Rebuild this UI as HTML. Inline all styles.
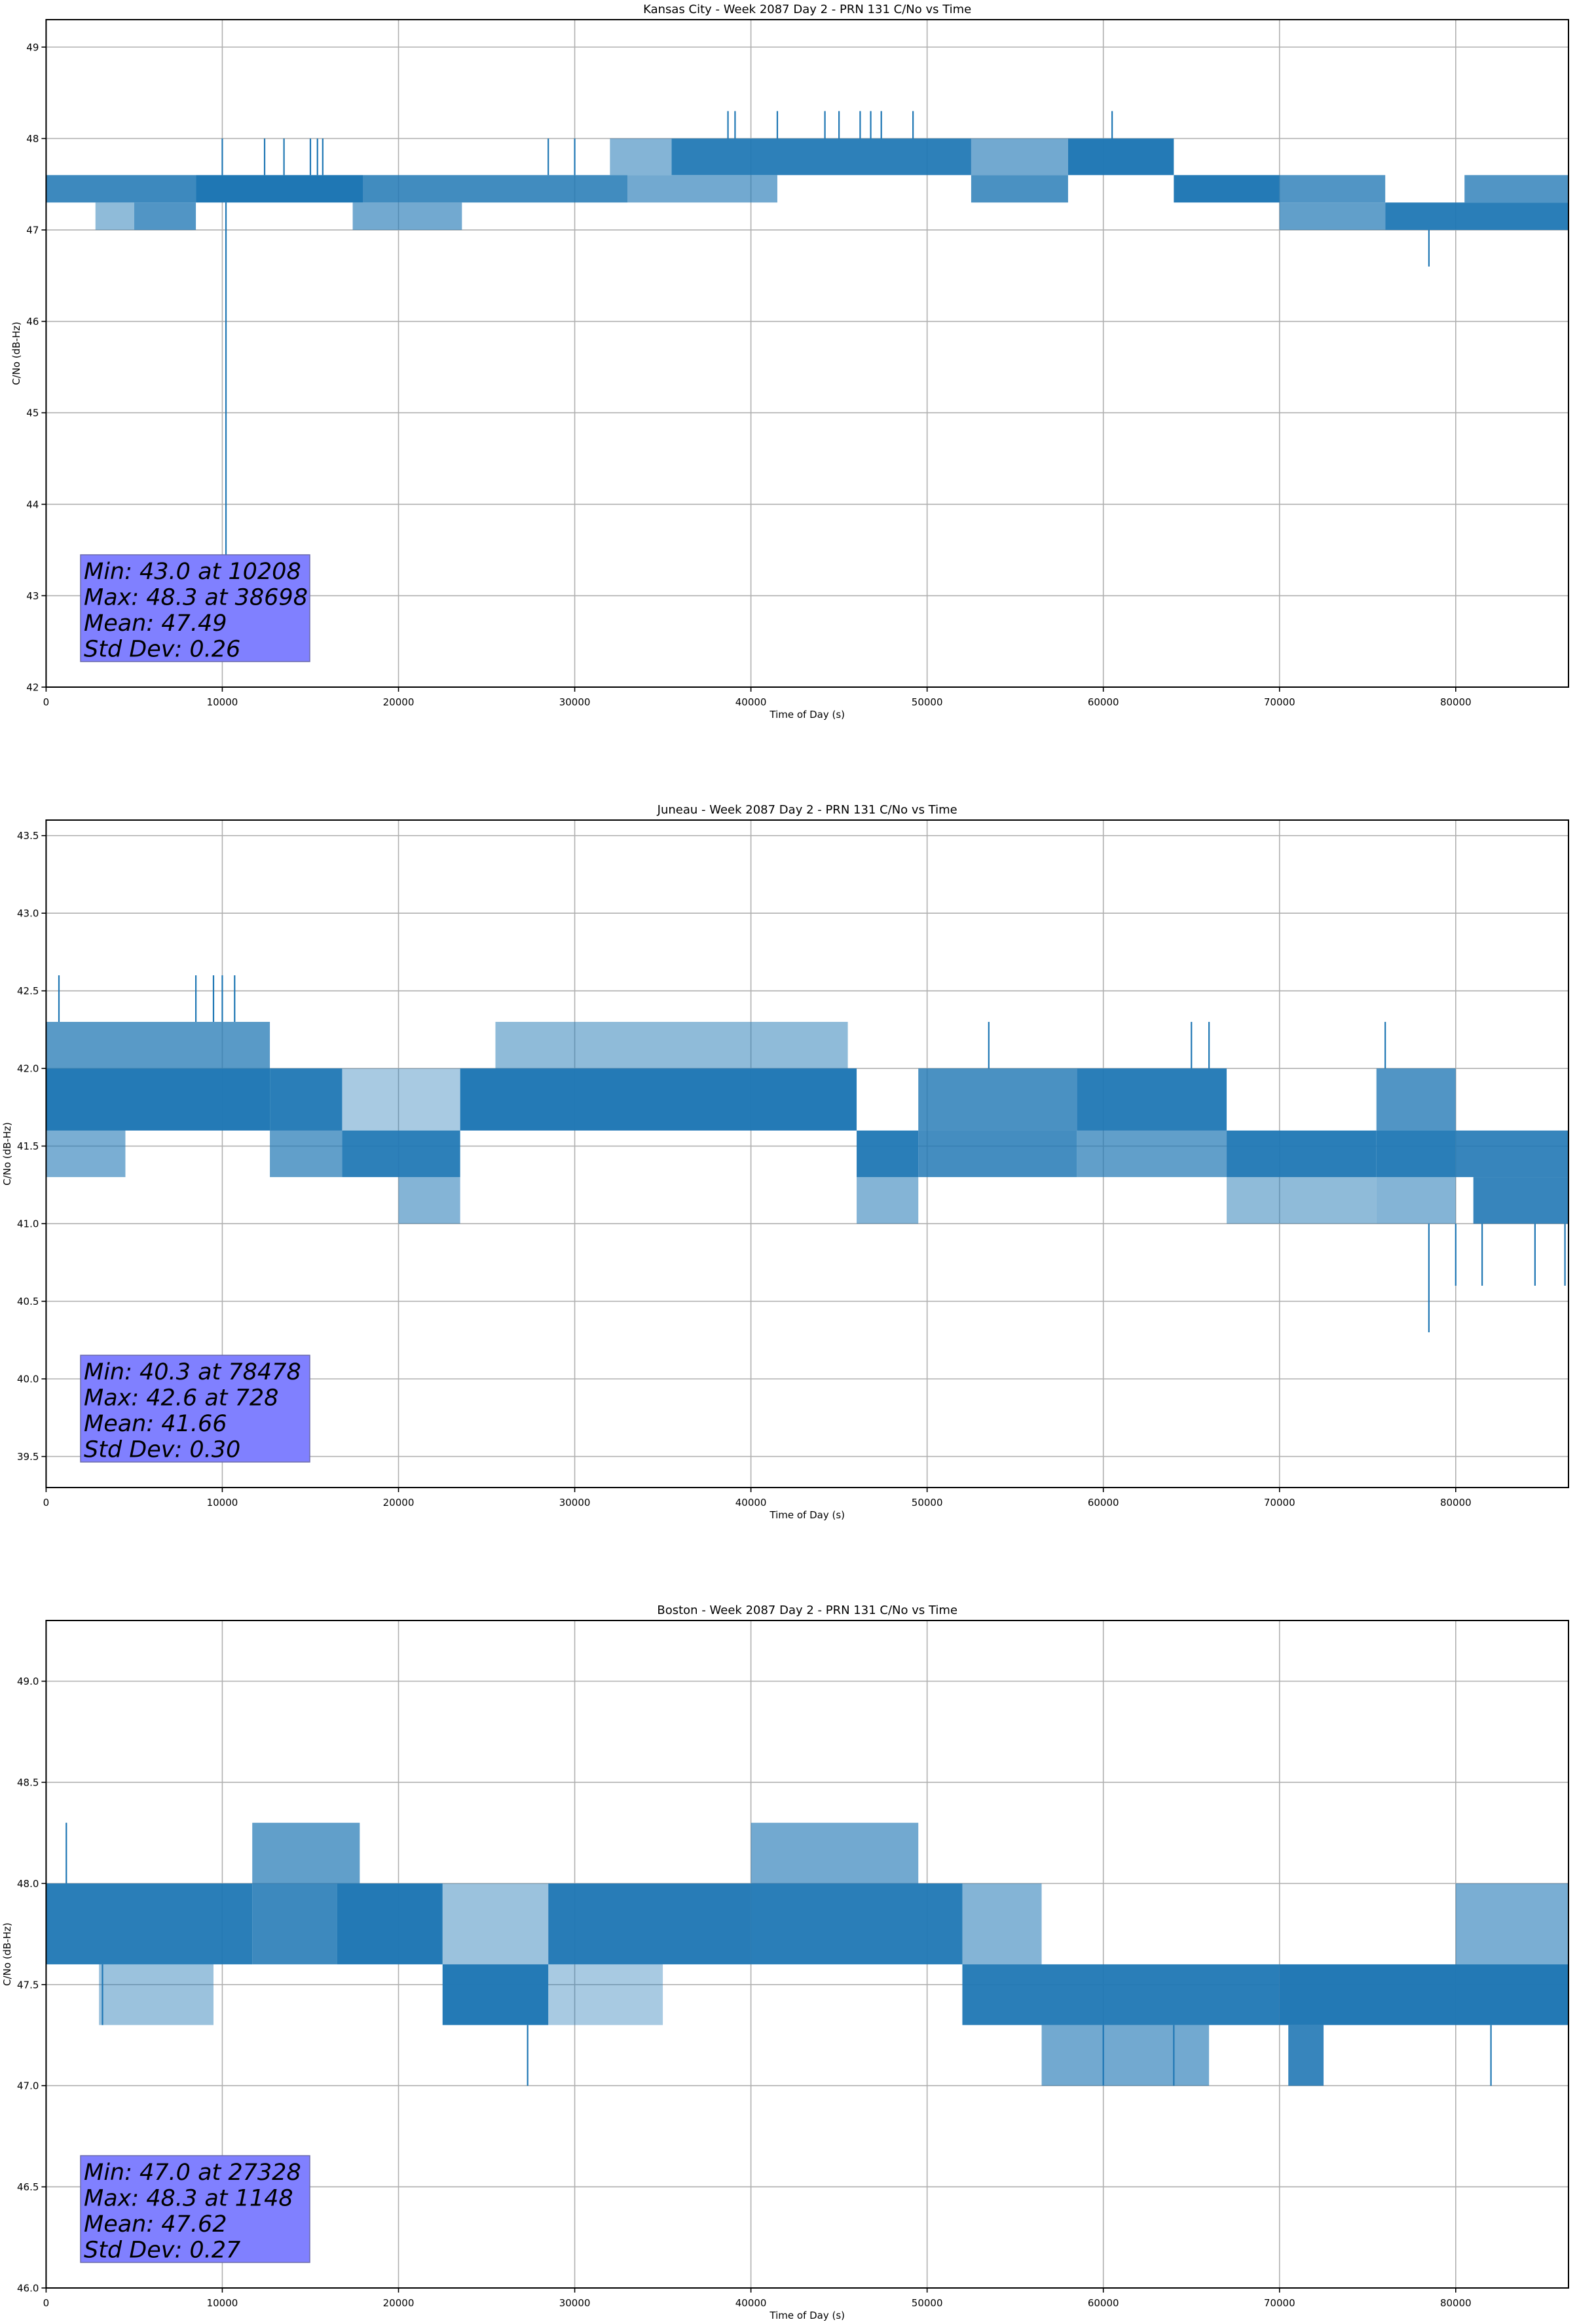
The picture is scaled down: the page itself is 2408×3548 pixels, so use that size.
<!DOCTYPE html>
<html><head><meta charset="utf-8">
<style>
html,body{margin:0;padding:0;background:#fff;}
svg{display:block;font-family:"DejaVu Sans","Liberation Sans",sans-serif;}
</style></head>
<body>
<svg id="chart" width="2408" height="3548" viewBox="0 0 2408 3548" xmlns="http://www.w3.org/2000/svg"></svg>
<script>
// ---------- Panel 1: Kansas City ----------
const kcTitle = "Kansas City - Week 2087 Day 2 - PRN 131 C/No vs Time";
const kcYTicks = [42,43,44,45,46,47,48,49];
const kcYTickLabels = ["42","43","44","45","46","47","48","49"];
const kcBlockStart = [0,2800,5000,8500,18000,17400,33000,32000,35500,52500,52500,58000,64000,70000,70000,76000,80500];
const kcBlockEnd   = [8500,5000,8500,18000,33000,23600,41500,35500,52500,58000,58000,64000,70000,76000,76000,86400,86400];
const kcBlockLow   = [47.3,47.0,47.0,47.3,47.3,47.0,47.3,47.6,47.6,47.3,47.6,47.6,47.3,47.3,47.0,47.0,47.3];
const kcBlockHigh  = [47.6,47.3,47.3,47.6,47.6,47.3,47.6,48.0,48.0,47.6,48.0,48.0,47.6,47.6,47.3,47.3,47.6];
const kcBlockDens  = [0.75,0.25,0.6,1.0,0.72,0.4,0.4,0.3,0.88,0.65,0.4,0.95,0.95,0.6,0.5,0.9,0.6];
const kcSpikeTime  = [10208,10000,12400,13500,15000,15400,15700,28500,30000,38698,39100,41500,44200,45000,46200,46800,47400,49200,60500,78480];
const kcSpikeLow   = [43.0,47.6,47.6,47.6,47.6,47.6,47.6,47.6,47.6,48.0,48.0,48.0,48.0,48.0,48.0,48.0,48.0,48.0,48.0,46.6];
const kcSpikeHigh  = [47.3,48.0,48.0,48.0,48.0,48.0,48.0,48.0,48.0,48.3,48.3,48.3,48.3,48.3,48.3,48.3,48.3,48.3,48.3,47.0];
const kcStats = ["Min: 43.0 at 10208","Max: 48.3 at 38698","Mean: 47.49","Std Dev: 0.26"];

// ---------- Panel 2: Juneau ----------
const jnTitle = "Juneau - Week 2087 Day 2 - PRN 131 C/No vs Time";
const jnYTicks = [39.5,40.0,40.5,41.0,41.5,42.0,42.5,43.0,43.5];
const jnYTickLabels = ["39.5","40.0","40.5","41.0","41.5","42.0","42.5","43.0","43.5"];
const jnBlockStart = [0,0,0,12700,12700,16800,16800,20000,23500,25500,46000,46000,49500,49500,58500,58500,67000,67000,75500,75500,75500,80000,81000];
const jnBlockEnd   = [12700,12700,4500,16800,16800,23500,23500,23500,46000,45500,49500,49500,58500,58500,67000,67000,75500,75500,80000,80000,80000,86400,86400];
const jnBlockLow   = [41.6,42.0,41.3,41.6,41.3,41.3,41.6,41.0,41.6,42.0,41.3,41.0,41.6,41.3,41.6,41.3,41.3,41.0,41.6,41.3,41.0,41.3,41.0];
const jnBlockHigh  = [42.0,42.3,41.6,42.0,41.6,41.6,42.0,41.3,42.0,42.3,41.6,41.3,42.0,41.6,42.0,41.6,41.6,41.3,42.0,41.6,41.3,41.6,41.3];
const jnBlockDens  = [0.95,0.55,0.35,0.9,0.5,0.88,0.15,0.3,0.95,0.25,0.9,0.3,0.65,0.7,0.9,0.5,0.9,0.25,0.6,0.9,0.3,0.8,0.8];
const jnSpikeTime  = [728,8500,9500,10000,10700,53500,65000,66000,76000,78478,80000,81500,84500,86200];
const jnSpikeLow   = [42.3,42.3,42.3,42.3,42.3,42.0,42.0,42.0,42.0,40.3,40.6,40.6,40.6,40.6];
const jnSpikeHigh  = [42.6,42.6,42.6,42.6,42.6,42.3,42.3,42.3,42.3,41.0,41.0,41.0,41.0,41.0];
const jnStats = ["Min: 40.3 at 78478","Max: 42.6 at 728","Mean: 41.66","Std Dev: 0.30"];

// ---------- Panel 3: Boston ----------
const bsTitle = "Boston - Week 2087 Day 2 - PRN 131 C/No vs Time";
const bsYTicks = [46.0,46.5,47.0,47.5,48.0,48.5,49.0];
const bsYTickLabels = ["46.0","46.5","47.0","47.5","48.0","48.5","49.0"];
const bsBlockStart = [0,3000,11700,11700,16500,22500,22500,28500,28500,40000,40000,52000,52000,56500,70500,70000,80000];
const bsBlockEnd   = [11700,9500,16500,17800,22500,28500,28500,40000,35000,52000,49500,70000,56500,66000,72500,86400,86400];
const bsBlockLow   = [47.6,47.3,47.6,48.0,47.6,47.3,47.6,47.6,47.3,47.6,48.0,47.3,47.6,47.0,47.0,47.3,47.6];
const bsBlockHigh  = [48.0,47.6,48.0,48.3,48.0,47.6,48.0,48.0,47.6,48.0,48.3,47.6,48.0,47.3,47.3,47.6,48.0];
const bsBlockDens  = [0.9,0.2,0.75,0.5,0.97,0.95,0.2,0.92,0.15,0.9,0.4,0.9,0.3,0.4,0.8,0.97,0.35];
const bsSpikeTime  = [1148,3200,27328,60000,64000,82000];
const bsSpikeLow   = [48.0,47.3,47.0,47.0,47.0,47.0];
const bsSpikeHigh  = [48.3,47.6,47.3,47.3,47.3,47.3];
const bsStats = ["Min: 47.0 at 27328","Max: 48.3 at 1148","Mean: 47.62","Std Dev: 0.27"];

const xTicks = [0,10000,20000,30000,40000,50000,60000,70000,80000];
const xTickLabels = ["0","10000","20000","30000","40000","50000","60000","70000","80000"];

const NS = "http://www.w3.org/2000/svg";
const svg = document.getElementById("chart");
function mk(tag, attrs, parent){
  const e = document.createElementNS(NS, tag);
  for (const k in attrs) e.setAttribute(k, attrs[k]);
  (parent||svg).appendChild(e);
  return e;
}

const L = 70.4, R = 2395, XMAX = 86400;
const BLUE = "#1f77b4";

function drawPanel(key, top, bottom, ymin, ymax, title, yTicks, yTickLabels, bS, bE, bL, bH, bD, sT, sL, sH, stats, yTitleX){
  const g = mk("g", {});
  
  
  const xs = t => L + (t / XMAX) * (R - L);
  const ys = v => bottom - (v - ymin) / (ymax - ymin) * (bottom - top);

  xTicks.forEach((t) => {
    const gl = mk("line", {x1:xs(t), x2:xs(t), y1:top, y2:bottom, stroke:"#b0b0b0", "stroke-width":1.6}, g);
    
    
  });
  yTicks.forEach((v) => {
    const gl = mk("line", {x1:L, x2:R, y1:ys(v), y2:ys(v), stroke:"#b0b0b0", "stroke-width":1.6}, g);
    
    
  });

  const clip = mk("clipPath", {id:"clip-"+key}, g);
  mk("rect", {x:L, y:top, width:R-L, height:bottom-top}, clip);
  const dg = mk("g", {"clip-path":"url(#clip-"+key+")"}, g);
  
  
  for (let i = 0; i < bS.length; i++) {
    const r = mk("rect", {x:xs(bS[i]), y:ys(bH[i]), width:Math.max(1, xs(bE[i]) - xs(bS[i])), height:ys(bL[i]) - ys(bH[i]), fill:BLUE, "fill-opacity":Math.sqrt(bD[i])}, dg);
    
    
  }
  for (let i = 0; i < sT.length; i++) {
    const l = mk("line", {x1:xs(sT[i]), x2:xs(sT[i]), y1:ys(sL[i]), y2:ys(sH[i]), stroke:BLUE, "stroke-width":2.2}, dg);
    
    
  }

  const fr = mk("rect", {x:L, y:top, width:R-L, height:bottom-top, fill:"none", stroke:"#000", "stroke-width":2}, g);
  
  

  xTicks.forEach((t, i) => {
    mk("line", {x1:xs(t), x2:xs(t), y1:bottom, y2:bottom+7, stroke:"#000", "stroke-width":1.6}, g);
    const tx = mk("text", {x:xs(t), y:bottom+28, "text-anchor":"middle", "font-size":15, fill:"#000"}, g);
    tx.textContent = xTickLabels[i];
    
    
  });
  yTicks.forEach((v, i) => {
    mk("line", {x1:L-7, x2:L, y1:ys(v), y2:ys(v), stroke:"#000", "stroke-width":1.6}, g);
    const tx = mk("text", {x:L-11, y:ys(v)+5.5, "text-anchor":"end", "font-size":15, fill:"#000"}, g);
    tx.textContent = yTickLabels[i];
    
    
  });

  const xl = mk("text", {x:(L+R)/2, y:bottom+47, "text-anchor":"middle", "font-size":15, fill:"#000"}, g);
  xl.textContent = "Time of Day (s)";
  
  
  const cy = (top+bottom)/2;
  const yl = mk("text", {x:yTitleX, y:cy, "text-anchor":"middle", "font-size":15, fill:"#000", transform:"rotate(-90 "+yTitleX+" "+cy+")"}, g);
  yl.textContent = "C/No (dB-Hz)";
  
  
  const tt = mk("text", {x:(L+R)/2, y:top-10, "text-anchor":"middle", "font-size":18, fill:"#000"}, g);
  tt.textContent = title;
  
  

  const bx = 123, bw = 350, bh = 163, by = bottom - 39 - bh;
  const sb = mk("rect", {x:bx, y:by, width:bw, height:bh, fill:"#8080ff", stroke:"#6a6aaa", "stroke-width":1.5}, g);
  
  
  stats.forEach((s, i) => {
    const st = mk("text", {x:bx+5, y:by+37+i*39.5, "font-size":35, "font-style":"italic", fill:"#000"}, g);
    st.textContent = s;
    
    
  });
}

drawPanel("kansas-city", 30, 1049, 42, 49.3, kcTitle, kcYTicks, kcYTickLabels, kcBlockStart, kcBlockEnd, kcBlockLow, kcBlockHigh, kcBlockDens, kcSpikeTime, kcSpikeLow, kcSpikeHigh, kcStats, 30);
drawPanel("juneau", 1252, 2271, 39.3, 43.6, jnTitle, jnYTicks, jnYTickLabels, jnBlockStart, jnBlockEnd, jnBlockLow, jnBlockHigh, jnBlockDens, jnSpikeTime, jnSpikeLow, jnSpikeHigh, jnStats, 16);
drawPanel("boston", 2474, 3493, 46.0, 49.3, bsTitle, bsYTicks, bsYTickLabels, bsBlockStart, bsBlockEnd, bsBlockLow, bsBlockHigh, bsBlockDens, bsSpikeTime, bsSpikeLow, bsSpikeHigh, bsStats, 16);
</script>
</body></html>
